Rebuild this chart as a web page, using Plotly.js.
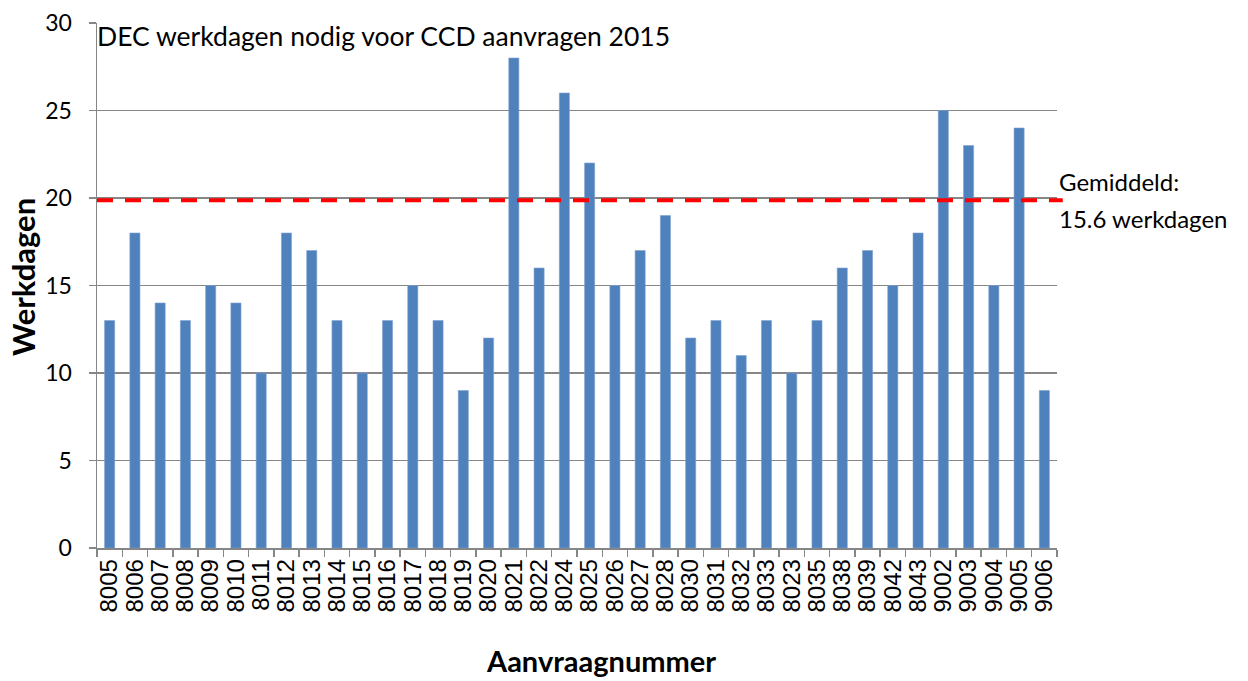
<!DOCTYPE html>
<html>
<head>
<meta charset="utf-8">
<script src="https://cdn.plot.ly/plotly-3.0.1.min.js"></script>
<style>html,body{margin:0;padding:0;background:#fff;}#chart{width:1248px;height:681px;}</style>
</head>
<body>
<div id="chart"></div>
<script>
const categories = ["8005","8006","8007","8008","8009","8010","8011","8012","8013","8014","8015","8016","8017","8018","8019","8020","8021","8022","8024","8025","8026","8027","8028","8030","8031","8032","8033","8023","8035","8038","8039","8042","8043","9002","9003","9004","9005","9006"];
const werkdagen = [13,18,14,13,15,14,10,18,17,13,10,13,15,13,9,12,28,16,26,22,15,17,19,12,13,11,13,10,13,16,17,15,18,25,23,15,24,9];
const referenceLevel = 19.87;
const referenceLabel = ["Gemiddeld:", "15.6 werkdagen"];
const yTicks = [0,5,10,15,20,25,30];

const calibriLike = "Lato, 'Open Sans', sans-serif";

const trace = {
  type: "bar",
  x: categories,
  y: werkdagen,
  marker: {color: "#4F81BD", line: {color: "#7FA3D0", width: 0.6}},
  hoverinfo: "x+y"
};

const layout = {
  width: 1248, height: 681,
  margin: {l: 97, r: 191, t: 23, b: 133},
  paper_bgcolor: "#fff", plot_bgcolor: "#fff",
  showlegend: false,
  bargap: 0.6,
  title: {
    text: "DEC werkdagen nodig voor CCD aanvragen 2015",
    font: {family: calibriLike, size: 26.5, color: "#000"},
    x: 0, xref: "paper", xanchor: "left",
    y: 1 - 37/681, yref: "container", yanchor: "middle"
  },
  xaxis: {
    type: "category",
    tickmode: "array",
    tickvals: categories,
    ticktext: categories,
    tickangle: -90,
    tickson: "boundaries",
    ticks: "outside", ticklen: 7, tickcolor: "#868686", tickwidth: 1.5,
    showline: true, linecolor: "#868686", linewidth: 1.5,
    showgrid: false,
    tickfont: {family: "'Liberation Sans', Arial, sans-serif", size: 24, color: "#000"},
    fixedrange: true
  },
  yaxis: {
    range: [0, 30],
    tickvals: yTicks,
    ticktext: yTicks.map(String),
    ticks: "outside", ticklen: 7, tickcolor: "#868686", tickwidth: 1.5,
    ticklabelstandoff: 12,
    showline: true, linecolor: "#868686", linewidth: 1.5,
    showgrid: true, gridcolor: "#868686", gridwidth: 1.5,
    zeroline: false,
    tickfont: {family: calibriLike, size: 23, color: "#000"},
    fixedrange: true
  },
  shapes: [{
    type: "line", xref: "paper", yref: "y",
    x0: 0, x1: 1.006, y0: referenceLevel, y1: referenceLevel,
    line: {color: "#FF0000", width: 4, dash: "16px,12px"}
  }],
  annotations: [
    {
      xref: "paper", yref: "y", x: 1.0, y: referenceLevel,
      xanchor: "left", yanchor: "middle", align: "left", yshift: 19,
      text: referenceLabel[0], showarrow: false,
      font: {family: calibriLike, size: 24, color: "#000"}
    },
    {
      xref: "paper", yref: "y", x: 1.0, y: referenceLevel,
      xanchor: "left", yanchor: "middle", align: "left", yshift: -18,
      text: referenceLabel[1], showarrow: false,
      font: {family: calibriLike, size: 24, color: "#000"}
    },
    {
      xref: "paper", yref: "paper", x: 0.525, y: 0,
      xanchor: "center", yanchor: "bottom", yshift: -132,
      text: "<b>Aanvraagnummer</b>", showarrow: false,
      font: {family: calibriLike, size: 29, color: "#000"}
    },
    {
      xref: "paper", yref: "paper", x: 0, y: (548 - 277) / 525,
      xanchor: "center", yanchor: "middle", xshift: -74, textangle: -90,
      text: "<b>Werkdagen</b>", showarrow: false,
      font: {family: calibriLike, size: 31, color: "#000"}
    }
  ]
};

Plotly.newPlot("chart", [trace], layout, {displayModeBar: false, staticPlot: true});
</script>
</body>
</html>
